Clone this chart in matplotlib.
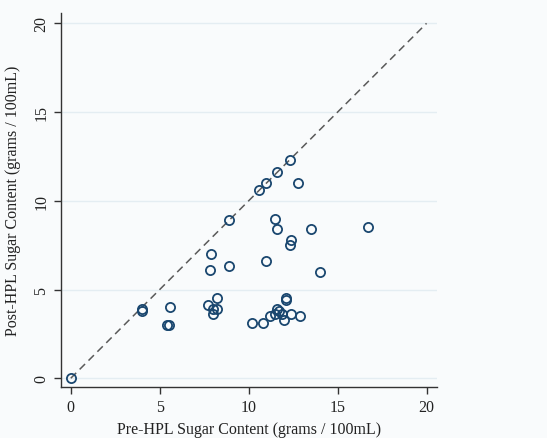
import numpy as np
import matplotlib.pyplot as plt

# pre / post HPL sugar content (grams / 100mL)
pre_hpl = [0.0, 4.0, 4.0, 5.4, 5.5, 5.6, 7.7, 7.8, 7.9, 8.0, 8.0, 8.2, 8.2,
           8.9, 8.9, 10.2, 10.8, 10.6, 11.0, 11.0, 11.2, 11.5, 11.6, 11.6,
           11.5, 11.6, 11.7, 11.9, 12.0, 12.1, 12.1, 12.3, 12.3, 12.4, 12.4,
           12.8, 12.9, 13.5, 14.0, 16.7]
post_hpl = [0.0, 3.9, 3.8, 3.0, 3.0, 4.0, 4.1, 6.1, 7.0, 3.9, 3.6, 3.9, 4.5,
            8.9, 6.3, 3.1, 3.1, 10.6, 11.0, 6.6, 3.5, 9.0, 11.6, 8.4,
            3.6, 3.9, 3.8, 3.6, 3.3, 4.5, 4.4, 12.3, 7.5, 7.8, 3.6,
            11.0, 3.5, 8.4, 6.0, 8.5]

ticks = [0, 5, 10, 15, 20]
line_ends = [0, 20]

plt.rcParams['font.family'] = ['Liberation Serif', 'DejaVu Serif']

bg = '#f9fbfc'
navy = '#1a476f'

fig = plt.figure(figsize=(5.47, 4.39), dpi=100, facecolor=bg)
ax = fig.add_axes([0.1115, 0.1155, 0.6865, 0.8525])
ax.set_facecolor(bg)

for t in ticks:
    ax.axhline(t, color='#e4edf2', lw=1.0, zorder=0)

ax.plot(line_ends, line_ends, color='#5a5a5a', lw=1.1, dashes=(5, 3.2), zorder=1)
ax.plot(pre_hpl, post_hpl, 'o', ms=6.6, mfc='none', mec=navy, mew=1.3, zorder=2)

ax.set_xlim(-0.55, 20.56)
ax.set_ylim(-0.51, 20.58)
ax.set_xticks(ticks)
ax.set_yticks(ticks)

for s in ['top', 'right']:
    ax.spines[s].set_visible(False)
for s in ['left', 'bottom']:
    ax.spines[s].set_color('#333333')
    ax.spines[s].set_linewidth(1.0)

ax.tick_params(direction='out', length=5, width=1.0, color='#333333',
               labelsize=11.5, labelcolor='#222222')
plt.setp(ax.get_yticklabels(), rotation=90, va='center')

ax.set_xlabel('Pre-HPL Sugar Content (grams / 100mL)', fontsize=11.5,
              color='#222222', labelpad=4)
ax.set_ylabel('Post-HPL Sugar Content (grams / 100mL)', fontsize=11.5,
              color='#222222', labelpad=9)

fig.savefig('out.png', dpi=100, facecolor=bg)
